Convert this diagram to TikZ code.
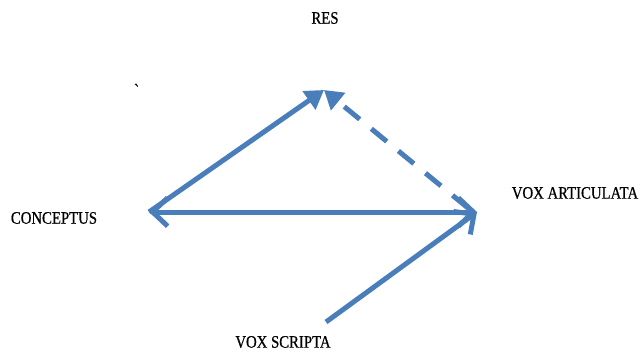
\documentclass[tikz,border=0pt]{standalone}
\usepackage{fontspec}
\setmainfont{Liberation Serif}
\newfontfamily\lblfont[FakeStretch=0.84,FakeBold=0.6]{Liberation Serif}
\usepackage{tikz}
\usetikzlibrary{arrows.meta}
\definecolor{arrowblue}{RGB}{74,126,187}

\begin{document}
\begin{tikzpicture}[x=0.3mm,y=-0.3mm,
    lbl/.style={font=\lblfont\fontsize{15}{17}\selectfont},
    link/.style={draw=arrowblue,line width=1.5mm},
    tri/.style={-{Triangle[length=5.5mm,width=6.5mm]}},
    barb/.style={-{Straight Barb[length=4.5mm,width=8.5mm,line width=1.5mm]}},
    dbarb/.style={{Straight Barb[length=4.5mm,width=8.5mm,line width=1.5mm]}-{Straight Barb[length=4.5mm,width=8.5mm,line width=1.5mm]}}]
            \useasboundingbox (0,0) rectangle (641,351);

            \node[lbl] (res) at (325,18) {RES};
            \node[lbl] (conc) at (54,218) {CONCEPTUS};
            \node[lbl] (voxa) at (575,193) {VOX ARTICULATA};
            \node[lbl] (voxs) at (283,342) {VOX SCRIPTA};
            \node[lbl] (tick) at (137,90) {\textasciigrave};

            \coordinate (conc-pt) at (149,212);
            \coordinate (res-pt) at (324,90);
            \coordinate (voxa-pt) at (477,212);
            \coordinate (voxs-pt) at (326,322);
            \coordinate (dash-pt) at (468,208);

            \draw[link,tri] (conc-pt) -- (res-pt);
            \draw[link,tri,dash pattern=on 6mm off 4.5mm] (dash-pt) -- (res-pt);
            \draw[link,dbarb] (conc-pt) -- (voxa-pt);
            \draw[link,barb] (voxs-pt) -- (voxa-pt);
\end{tikzpicture}
\end{document}
